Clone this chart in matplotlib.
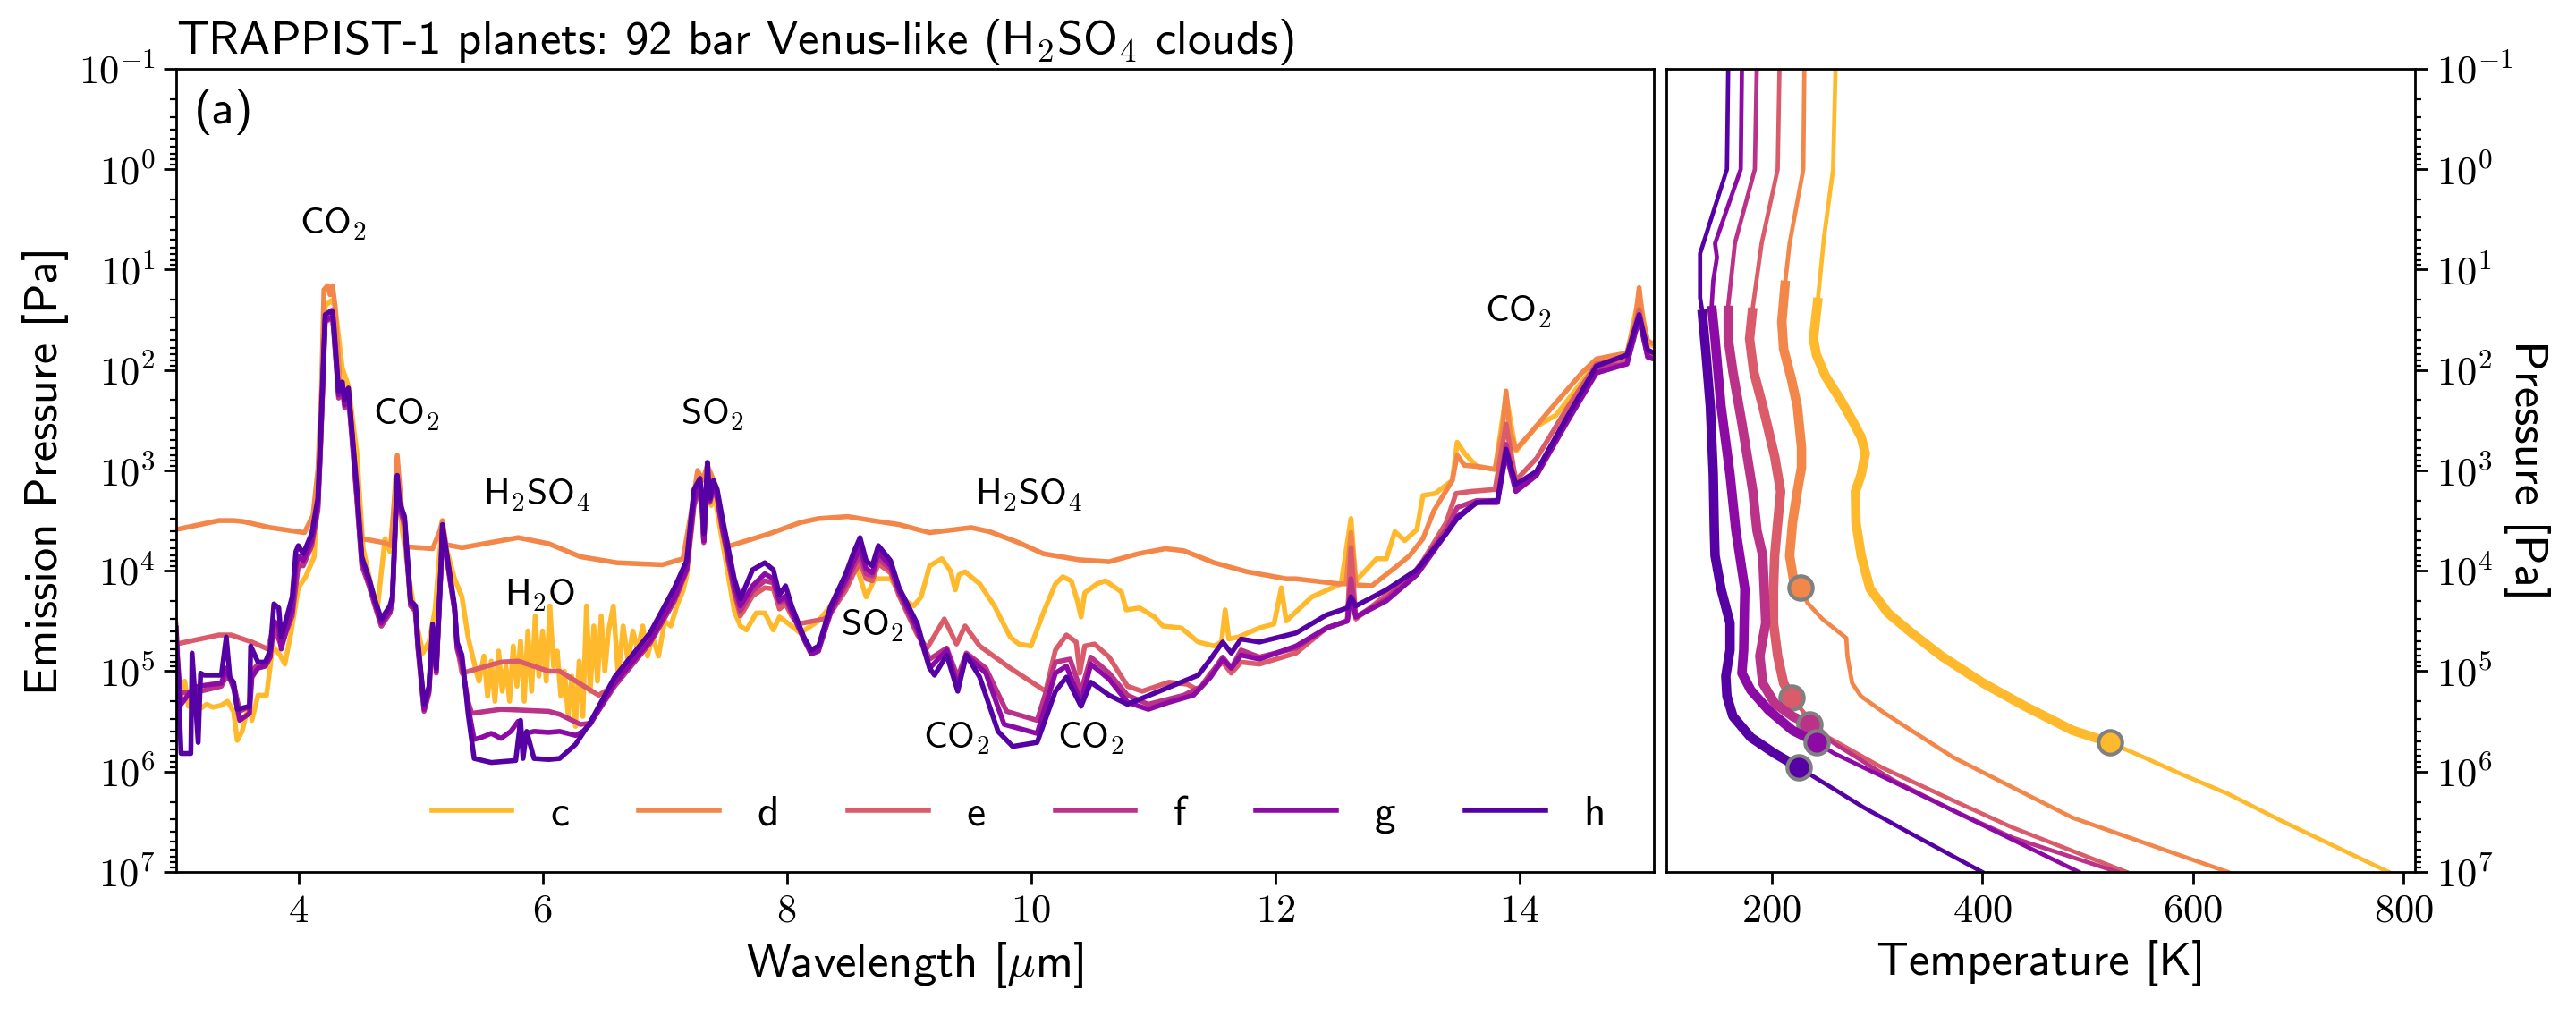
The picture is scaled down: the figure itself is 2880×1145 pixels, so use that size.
import numpy as np
import matplotlib
matplotlib.use("Agg")
import matplotlib.pyplot as plt
from matplotlib.ticker import FixedLocator, FuncFormatter, LogLocator, NullFormatter

plt.rcParams['font.family'] = 'cmss10'
plt.rcParams['mathtext.fontset'] = 'cm'
plt.rcParams['mathtext.default'] = 'rm'

planets = ["c", "d", "e", "f", "g", "h"]

# emission spectra: (wavelength [um], log10 emission pressure [Pa])
spec_c = [(3.00, 4.53), (3.03, 5.30), (3.07, 5.10), (3.10, 5.35), (3.15, 5.25), (3.20, 5.37), (3.25, 5.33),
          (3.30, 5.36), (3.37, 5.34), (3.42, 5.30), (3.47, 5.40), (3.50, 5.69), (3.54, 5.60), (3.58, 5.40),
          (3.60, 5.33), (3.62, 5.49), (3.67, 5.24), (3.74, 5.24), (3.79, 4.75), (3.85, 4.84), (3.89, 4.93),
          (3.94, 4.62), (4.00, 4.17), (4.06, 4.06), (4.13, 3.86), (4.18, 2.74), (4.22, 1.36), (4.27, 1.31),
          (4.30, 1.36), (4.36, 1.98), (4.41, 2.16), (4.48, 2.83), (4.53, 3.77), (4.60, 4.17), (4.65, 4.35),
          (4.69, 3.90), (4.71, 3.68), (4.75, 3.81), (4.77, 3.54), (4.81, 3.01), (4.85, 3.59), (4.92, 4.17),
          (4.97, 4.53), (5.02, 4.82), (5.07, 4.71), (5.12, 4.39), (5.17, 3.63), (5.22, 3.81), (5.28, 4.08),
          (5.34, 4.26), (5.39, 4.66), (5.46, 5.02), (5.48, 5.10), (5.52, 4.85), (5.55, 5.25), (5.58, 4.90),
          (5.61, 5.30), (5.64, 4.80), (5.67, 5.20), (5.70, 4.95), (5.73, 5.30), (5.76, 4.75), (5.79, 5.15),
          (5.82, 4.70), (5.85, 5.30), (5.88, 4.60), (5.91, 5.20), (5.94, 4.45), (5.97, 5.05), (6.00, 4.60),
          (6.03, 5.10), (6.06, 4.35), (6.09, 4.95), (6.12, 4.80), (6.15, 5.25), (6.18, 5.00), (6.21, 5.45),
          (6.24, 5.05), (6.27, 5.55), (6.30, 4.90), (6.33, 5.45), (6.36, 4.35), (6.39, 5.20), (6.42, 4.55),
          (6.45, 5.10), (6.48, 4.45), (6.51, 5.00), (6.54, 4.60), (6.58, 4.35), (6.62, 5.05), (6.66, 4.55),
          (6.70, 4.90), (6.74, 4.60), (6.78, 4.80), (6.82, 4.55), (6.86, 4.85), (6.90, 4.65), (6.95, 4.85),
          (7.00, 4.50), (7.05, 4.55), (7.10, 4.35), (7.15, 4.20), (7.18, 4.05), (7.22, 3.60), (7.25, 3.20),
          (7.29, 3.12), (7.32, 3.70), (7.35, 3.10), (7.38, 3.35), (7.41, 3.25), (7.45, 3.55), (7.50, 3.90),
          (7.57, 4.40), (7.62, 4.55), (7.67, 4.59), (7.75, 4.42), (7.82, 4.42), (7.89, 4.59), (7.94, 4.46),
          (8.04, 4.55), (8.11, 4.62), (8.26, 4.50), (8.36, 4.35), (8.48, 4.08), (8.58, 3.99), (8.65, 4.26),
          (8.72, 4.08), (8.85, 4.08), (8.97, 4.30), (9.04, 4.35), (9.10, 4.26), (9.17, 3.95), (9.27, 3.88),
          (9.34, 4.00), (9.38, 4.19), (9.41, 4.04), (9.46, 4.01), (9.58, 4.13), (9.70, 4.35), (9.83, 4.66),
          (9.90, 4.73), (10.00, 4.75), (10.10, 4.42), (10.20, 4.13), (10.26, 4.06), (10.33, 4.10), (10.38, 4.30),
          (10.41, 4.46), (10.44, 4.22), (10.54, 4.13), (10.61, 4.10), (10.74, 4.21), (10.78, 4.39), (10.89, 4.37),
          (11.01, 4.46), (11.08, 4.55), (11.23, 4.57), (11.37, 4.71), (11.50, 4.75), (11.56, 4.71), (11.59, 4.39),
          (11.62, 4.68), (11.70, 4.66), (11.87, 4.57), (11.99, 4.53), (12.05, 4.17), (12.09, 4.50), (12.30, 4.26),
          (12.54, 4.13), (12.62, 3.48), (12.66, 4.10), (12.83, 3.88), (12.91, 3.88), (12.98, 3.61), (13.06, 3.70),
          (13.16, 3.59), (13.21, 3.25), (13.31, 3.23), (13.45, 3.10), (13.49, 2.72), (13.55, 2.83), (13.65, 2.96),
          (13.80, 2.99), (13.89, 2.25), (13.97, 2.81), (14.14, 2.56), (14.30, 2.45), (14.51, 2.12), (14.63, 1.92),
          (14.88, 1.85), (14.98, 1.25), (15.05, 1.74), (15.10, 1.76)]

spec_d = [(3.00, 3.59), (3.35, 3.50), (3.47, 3.50), (3.55, 3.51), (3.77, 3.57), (4.05, 3.62), (4.12, 3.45),
          (4.16, 3.00), (4.19, 2.20), (4.21, 1.20), (4.24, 1.16), (4.26, 1.25), (4.28, 1.16), (4.30, 1.35),
          (4.34, 2.10), (4.38, 2.30), (4.42, 2.40), (4.47, 3.00), (4.52, 3.68), (4.70, 3.72), (4.76, 3.75),
          (4.78, 3.40), (4.81, 2.85), (4.84, 3.30), (4.88, 3.76), (5.10, 3.78), (5.16, 3.60), (5.18, 3.50),
          (5.21, 3.74), (5.34, 3.77), (5.57, 3.72), (5.80, 3.67), (6.05, 3.73), (6.31, 3.86), (6.61, 3.92),
          (6.98, 3.94), (7.15, 3.88), (7.22, 3.40), (7.27, 3.00), (7.31, 3.10), (7.35, 2.95), (7.40, 3.10),
          (7.45, 3.40), (7.52, 3.75), (7.54, 3.75), (7.86, 3.63), (8.11, 3.52), (8.26, 3.48), (8.50, 3.46),
          (8.70, 3.50), (8.92, 3.54), (9.17, 3.62), (9.51, 3.57), (9.66, 3.61), (9.90, 3.72), (10.10, 3.83),
          (10.39, 3.89), (10.64, 3.91), (10.88, 3.83), (11.10, 3.78), (11.25, 3.80), (11.50, 3.92), (11.77, 4.01),
          (12.09, 4.08), (12.17, 4.08), (12.52, 4.13), (12.58, 4.13), (12.62, 3.62), (12.66, 4.14), (12.79, 4.15),
          (12.98, 3.97), (13.10, 3.85), (13.21, 3.68), (13.30, 3.40), (13.40, 3.20), (13.45, 3.10), (13.49, 2.85),
          (13.55, 2.95), (13.65, 2.96), (13.80, 2.99), (13.86, 2.60), (13.89, 2.21), (13.92, 2.60), (13.97, 2.79),
          (14.09, 2.63), (14.24, 2.41), (14.51, 2.03), (14.63, 1.89), (14.88, 1.83), (14.95, 1.50), (14.98, 1.18),
          (15.01, 1.50), (15.05, 1.71), (15.10, 1.74)]

spec_e = [(3.00, 4.73), (3.35, 4.64), (3.45, 4.64), (3.62, 4.71), (3.75, 4.78), (3.80, 4.55), (3.86, 4.72),
          (3.91, 4.55), (3.95, 4.40), (4.00, 3.92), (4.04, 3.92), (4.11, 3.72), (4.16, 3.38), (4.18, 2.82),
          (4.22, 1.45), (4.28, 1.40), (4.29, 1.55), (4.33, 2.22), (4.36, 2.12), (4.38, 2.32), (4.41, 2.20),
          (4.44, 2.65), (4.48, 3.28), (4.52, 3.92), (4.58, 4.15), (4.63, 4.35), (4.68, 4.55), (4.75, 4.42),
          (4.77, 4.30), (4.81, 3.05), (4.83, 3.35), (4.87, 3.52), (4.92, 4.35), (4.96, 4.40), (4.98, 4.76),
          (5.03, 5.30), (5.07, 5.18), (5.10, 4.56), (5.13, 4.98), (5.17, 3.90), (5.18, 3.56), (5.22, 3.88),
          (5.28, 4.38), (5.30, 4.74), (5.34, 5.02), (5.66, 4.91), (5.80, 4.90), (6.05, 5.00), (6.14, 5.00),
          (6.46, 5.24), (6.59, 5.14), (6.88, 4.72), (7.08, 4.30), (7.18, 4.00), (7.24, 3.33), (7.29, 3.15),
          (7.31, 3.40), (7.32, 3.70), (7.35, 3.08), (7.37, 3.30), (7.40, 3.15), (7.43, 3.26), (7.47, 3.56),
          (7.57, 4.22), (7.62, 4.45), (7.72, 4.25), (7.82, 4.17), (7.89, 4.18), (7.94, 4.38), (7.99, 4.33),
          (8.04, 4.45), (8.09, 4.53), (8.31, 4.48), (8.36, 4.42), (8.48, 4.20), (8.55, 4.02), (8.60, 3.92),
          (8.65, 4.08), (8.70, 4.10), (8.75, 3.93), (8.85, 4.02), (8.92, 4.25), (9.07, 4.64), (9.15, 4.77),
          (9.29, 4.48), (9.39, 4.73), (9.46, 4.55), (9.58, 4.75), (9.83, 4.97), (10.12, 5.20), (10.20, 4.79),
          (10.29, 4.64), (10.37, 4.71), (10.40, 5.02), (10.44, 4.75), (10.52, 4.73), (10.64, 4.86), (10.79, 5.15),
          (10.91, 5.20), (11.13, 5.11), (11.28, 5.13), (11.37, 5.19), (11.47, 5.02), (11.57, 4.91), (11.64, 5.02),
          (11.72, 4.91), (11.87, 4.93), (12.17, 4.82), (12.42, 4.57), (12.59, 4.50), (12.62, 3.77), (12.66, 4.48),
          (12.91, 4.24), (13.11, 4.06), (13.21, 3.90), (13.40, 3.52), (13.48, 3.23), (13.60, 3.21), (13.80, 3.19),
          (13.89, 2.54), (13.97, 3.10), (14.14, 2.88), (14.39, 2.38), (14.63, 1.94), (14.88, 1.89), (14.98, 1.40),
          (15.05, 1.85), (15.10, 1.87)]

spec_f = [(3.00, 5.22), (3.20, 5.20), (3.37, 5.15), (3.41, 5.05), (3.47, 5.12), (3.52, 5.40), (3.60, 5.35),
          (3.62, 5.00), (3.67, 4.93), (3.73, 4.93), (3.77, 4.82), (3.80, 4.55), (3.86, 4.75), (3.91, 4.58),
          (3.95, 4.45), (4.00, 3.95), (4.04, 3.95), (4.11, 3.75), (4.16, 3.40), (4.18, 2.85), (4.22, 1.52),
          (4.28, 1.48), (4.29, 1.62), (4.33, 2.28), (4.36, 2.18), (4.38, 2.38), (4.41, 2.25), (4.44, 2.70),
          (4.48, 3.30), (4.52, 3.95), (4.58, 4.15), (4.63, 4.36), (4.68, 4.55), (4.75, 4.42), (4.77, 4.32),
          (4.81, 3.12), (4.83, 3.38), (4.87, 3.55), (4.92, 4.35), (4.96, 4.40), (4.98, 4.78), (5.03, 5.40),
          (5.07, 5.22), (5.10, 4.58), (5.13, 5.02), (5.17, 3.95), (5.18, 3.60), (5.22, 3.92), (5.28, 4.40),
          (5.30, 4.78), (5.34, 4.95), (5.39, 5.30), (5.42, 5.42), (5.66, 5.38), (6.05, 5.40), (6.14, 5.43),
          (6.31, 5.53), (6.39, 5.52), (6.59, 5.15), (6.88, 4.72), (7.08, 4.30), (7.18, 4.00), (7.24, 3.35),
          (7.29, 3.18), (7.31, 3.42), (7.32, 3.72), (7.35, 3.10), (7.37, 3.32), (7.40, 3.18), (7.43, 3.28),
          (7.47, 3.58), (7.57, 4.20), (7.62, 4.40), (7.72, 4.20), (7.82, 4.10), (7.89, 4.12), (7.94, 4.32),
          (7.99, 4.28), (8.04, 4.42), (8.14, 4.68), (8.20, 4.82), (8.26, 4.78), (8.36, 4.42), (8.48, 4.15),
          (8.55, 3.95), (8.60, 3.85), (8.65, 4.03), (8.70, 4.05), (8.75, 3.88), (8.85, 3.98), (8.92, 4.22),
          (9.07, 4.62), (9.17, 4.88), (9.31, 4.77), (9.40, 5.06), (9.47, 4.82), (9.63, 4.97), (9.80, 5.40),
          (10.05, 5.49), (10.20, 4.91), (10.32, 4.88), (10.41, 5.20), (10.49, 4.86), (10.64, 5.02), (10.79, 5.24),
          (10.96, 5.33), (11.25, 5.24), (11.40, 5.15), (11.57, 4.86), (11.64, 4.97), (11.72, 4.79), (11.87, 4.86),
          (12.17, 4.77), (12.42, 4.57), (12.59, 4.50), (12.62, 4.08), (12.66, 4.46), (12.91, 4.28), (13.16, 3.99),
          (13.40, 3.59), (13.49, 3.37), (13.65, 3.30), (13.82, 3.30), (13.89, 2.74), (13.97, 3.19), (14.14, 3.01),
          (14.39, 2.47), (14.63, 1.98), (14.88, 1.94), (14.98, 1.45), (15.05, 1.87), (15.10, 1.89)]

spec_g = [(3.00, 4.71), (3.04, 5.33), (3.12, 5.20), (3.18, 5.15), (3.30, 5.13), (3.37, 5.12), (3.41, 4.97),
          (3.47, 5.17), (3.52, 5.49), (3.60, 5.42), (3.62, 5.06), (3.67, 4.97), (3.73, 4.95), (3.77, 4.86),
          (3.80, 4.50), (3.84, 4.55), (3.86, 4.78), (3.91, 4.55), (3.95, 4.40), (3.98, 3.95), (4.00, 3.85),
          (4.04, 3.90), (4.11, 3.70), (4.16, 3.35), (4.18, 2.80), (4.22, 1.50), (4.28, 1.47), (4.29, 1.60),
          (4.33, 2.25), (4.36, 2.15), (4.38, 2.35), (4.41, 2.22), (4.44, 2.65), (4.48, 3.25), (4.52, 3.90),
          (4.58, 4.12), (4.63, 4.33), (4.68, 4.52), (4.75, 4.40), (4.77, 4.30), (4.81, 3.10), (4.83, 3.36),
          (4.87, 3.50), (4.92, 4.33), (4.96, 4.38), (4.98, 4.75), (5.03, 5.38), (5.07, 5.20), (5.10, 4.56),
          (5.13, 5.00), (5.17, 3.93), (5.18, 3.58), (5.22, 3.90), (5.28, 4.38), (5.30, 4.75), (5.34, 4.90),
          (5.39, 5.35), (5.44, 5.68), (5.50, 5.66), (5.58, 5.62), (5.66, 5.67), (5.74, 5.60), (5.80, 5.50),
          (5.83, 5.63), (5.93, 5.60), (6.05, 5.61), (6.14, 5.60), (6.27, 5.64), (6.33, 5.60), (6.39, 5.53),
          (6.59, 5.12), (6.88, 4.70), (7.08, 4.27), (7.18, 3.98), (7.24, 3.30), (7.29, 3.15), (7.31, 3.40),
          (7.32, 3.70), (7.35, 3.05), (7.37, 3.30), (7.40, 3.15), (7.43, 3.25), (7.47, 3.55), (7.57, 4.15),
          (7.62, 4.35), (7.72, 4.15), (7.82, 4.03), (7.89, 4.08), (7.94, 4.30), (7.99, 4.25), (8.04, 4.40),
          (8.14, 4.68), (8.20, 4.83), (8.26, 4.80), (8.36, 4.40), (8.48, 4.10), (8.55, 3.90), (8.60, 3.77),
          (8.65, 3.98), (8.70, 4.02), (8.75, 3.82), (8.85, 3.95), (8.92, 4.20), (9.07, 4.58), (9.17, 4.97),
          (9.31, 4.79), (9.40, 5.15), (9.47, 4.84), (9.63, 5.02), (9.78, 5.53), (10.05, 5.62), (10.20, 5.02),
          (10.29, 4.95), (10.41, 5.31), (10.49, 4.93), (10.64, 5.08), (10.79, 5.31), (10.96, 5.38), (11.13, 5.31),
          (11.33, 5.24), (11.47, 5.06), (11.57, 4.88), (11.64, 4.97), (11.72, 4.84), (11.87, 4.88), (12.17, 4.75),
          (12.42, 4.57), (12.59, 4.50), (12.62, 4.26), (12.66, 4.46), (12.91, 4.30), (13.16, 4.04), (13.40, 3.63),
          (13.49, 3.46), (13.65, 3.32), (13.82, 3.32), (13.89, 2.83), (13.97, 3.21), (14.14, 3.05), (14.39, 2.52),
          (14.63, 2.03), (14.88, 1.94), (14.98, 1.49), (15.05, 1.87), (15.10, 1.89)]

spec_h = [(3.00, 4.57), (3.04, 5.82), (3.12, 5.82), (3.13, 4.82), (3.18, 5.71), (3.20, 5.02), (3.23, 5.04),
          (3.37, 5.04), (3.41, 4.66), (3.44, 5.06), (3.47, 5.11), (3.50, 5.38), (3.60, 5.35), (3.61, 4.75),
          (3.67, 4.91), (3.73, 4.91), (3.77, 4.79), (3.80, 4.33), (3.84, 4.37), (3.86, 4.66), (3.91, 4.44),
          (3.95, 4.26), (3.98, 3.81), (4.00, 3.75), (4.04, 3.83), (4.11, 3.63), (4.16, 3.28), (4.18, 2.70),
          (4.22, 1.45), (4.26, 1.42), (4.28, 1.42), (4.29, 1.54), (4.33, 2.21), (4.36, 2.12), (4.38, 2.29),
          (4.41, 2.18), (4.44, 2.61), (4.48, 3.19), (4.52, 3.86), (4.58, 4.08), (4.63, 4.30), (4.68, 4.48),
          (4.75, 4.35), (4.77, 4.26), (4.81, 3.05), (4.83, 3.32), (4.87, 3.46), (4.92, 4.30), (4.96, 4.35),
          (4.98, 4.71), (5.03, 5.33), (5.07, 5.15), (5.10, 4.53), (5.13, 4.97), (5.17, 3.90), (5.18, 3.54),
          (5.22, 3.86), (5.28, 4.35), (5.30, 4.71), (5.34, 4.84), (5.39, 5.42), (5.44, 5.87), (5.58, 5.91),
          (5.78, 5.89), (5.82, 5.49), (5.84, 5.87), (5.87, 5.60), (5.93, 5.87), (6.05, 5.88), (6.14, 5.87),
          (6.27, 5.73), (6.39, 5.51), (6.59, 5.06), (6.88, 4.62), (7.08, 4.17), (7.18, 3.90), (7.24, 3.19),
          (7.29, 3.08), (7.31, 3.37), (7.32, 3.63), (7.35, 2.92), (7.37, 3.28), (7.40, 3.10), (7.43, 3.19),
          (7.47, 3.46), (7.57, 4.08), (7.62, 4.28), (7.72, 3.99), (7.82, 3.92), (7.89, 3.99), (7.94, 4.24),
          (7.99, 4.15), (8.04, 4.35), (8.14, 4.66), (8.20, 4.79), (8.26, 4.75), (8.36, 4.35), (8.48, 4.04),
          (8.55, 3.81), (8.60, 3.67), (8.65, 3.90), (8.70, 3.95), (8.75, 3.75), (8.85, 3.90), (8.92, 4.17),
          (9.07, 4.53), (9.17, 4.97), (9.21, 5.04), (9.31, 4.84), (9.40, 5.20), (9.47, 4.84), (9.58, 5.06),
          (9.73, 5.60), (9.85, 5.75), (10.05, 5.71), (10.20, 5.20), (10.29, 5.06), (10.41, 5.35), (10.49, 5.11),
          (10.64, 5.24), (10.79, 5.33), (11.01, 5.22), (11.37, 5.04), (11.47, 4.88), (11.57, 4.71), (11.64, 4.82),
          (11.72, 4.68), (11.87, 4.71), (12.17, 4.62), (12.42, 4.44), (12.59, 4.37), (12.62, 4.26), (12.66, 4.35),
          (12.91, 4.19), (13.16, 3.99), (13.40, 3.63), (13.49, 3.48), (13.65, 3.32), (13.82, 3.30), (13.89, 2.79),
          (13.97, 3.14), (14.14, 3.01), (14.39, 2.47), (14.63, 1.96), (14.88, 1.85), (14.98, 1.45), (15.05, 1.80),
          (15.10, 1.83)]

spectra = [spec_c, spec_d, spec_e, spec_f, spec_g, spec_h]

# temperature profiles: (T [K], log10 pressure [Pa]) from top to bottom
prof_c = [(260.6, -1.0), (258.3, 0.0), (249.8, 0.67), (244.0, 1.28), (239.6, 1.69), (242.5, 1.85), (251.0, 2.06),
          (265.0, 2.29), (276.4, 2.50), (285.0, 2.67), (288.9, 2.83), (285.0, 3.04), (279.5, 3.21), (280.0, 3.52),
          (285.0, 3.85), (293.4, 4.18), (310.4, 4.42), (333.0, 4.62), (361.3, 4.85), (401.0, 5.12), (440.6, 5.35),
          (485.8, 5.59), (520.9, 5.71), (553.8, 5.86), (587.7, 6.02), (633.0, 6.22), (683.9, 6.49), (785.8, 7.0)]
prof_d = [(231.0, -1.0), (230.0, 0.0), (217.0, 0.74), (213.0, 1.11), (209.6, 1.52), (211.3, 1.79), (218.7, 2.09),
          (224.3, 2.36), (228.3, 2.77), (228.3, 2.97), (224.3, 3.21), (219.8, 3.52), (217.0, 3.85), (220.9, 4.10),
          (227.2, 4.17), (234.0, 4.32), (248.1, 4.48), (270.8, 4.67), (271.9, 4.85), (276.4, 5.12), (284.9, 5.25),
          (307.5, 5.42), (372.6, 5.86), (485.8, 6.46), (633.0, 7.0)]
prof_e = [(207.4, -1.0), (205.7, 0.0), (190.4, 0.74), (182.0, 1.38), (179.0, 1.69), (183.0, 2.02), (191.5, 2.36),
          (202.8, 2.86), (208.5, 3.21), (205.7, 3.52), (202.8, 3.85), (201.7, 4.18), (201.7, 4.52), (205.7, 4.85),
          (211.3, 5.12), (218.7, 5.26), (231.1, 5.42), (253.8, 5.66), (304.7, 5.96), (372.6, 6.29), (429.2, 6.56),
          (536.8, 7.0)]
prof_f = [(185.8, -1.0), (184.0, 0.0), (165.0, 0.74), (163.0, 0.94), (158.7, 1.36), (158.7, 1.69), (163.2, 2.02),
          (171.7, 2.53), (182.0, 3.20), (186.0, 3.60), (191.5, 3.85), (194.3, 4.52), (188.7, 4.85), (191.5, 5.12),
          (202.8, 5.32), (219.8, 5.45), (235.7, 5.53), (259.4, 5.72), (316.0, 6.09), (372.6, 6.39), (429.2, 6.66),
          (528.3, 7.0)]
prof_g = [(171.7, -1.0), (170.6, 0.0), (146.2, 0.74), (148.0, 0.88), (144.5, 1.11), (143.0, 1.36), (146.2, 1.69),
          (151.9, 2.36), (160.4, 3.04), (166.0, 3.60), (174.5, 4.18), (173.4, 4.79), (171.7, 5.02), (180.2, 5.19),
          (197.2, 5.39), (219.8, 5.59), (242.5, 5.71), (259.4, 5.82), (293.4, 5.99), (372.6, 6.39), (491.5, 7.0)]
prof_h = [(158.7, -1.0), (157.5, 0.0), (132.0, 0.84), (132.0, 1.28), (133.8, 1.40), (137.7, 1.85), (141.7, 2.36),
          (144.5, 3.04), (145.5, 3.60), (146.2, 3.85), (151.9, 4.18), (160.4, 4.52), (160.4, 4.79), (156.4, 5.05),
          (157.5, 5.25), (163.2, 5.45), (180.2, 5.66), (202.8, 5.82), (225.5, 5.96), (253.8, 6.14), (287.7, 6.36),
          (327.4, 6.59), (399.8, 7.0)]

profiles = [prof_c, prof_d, prof_e, prof_f, prof_g, prof_h]
thick_top_logp = [1.28, 1.11, 1.38, 1.36, 1.36, 1.40]
marker_logp = [5.71, 4.17, 5.26, 5.53, 5.71, 5.96]

# label text, wavelength, log10 pressure
labels = [(r"CO$_2$", 4.28, 0.55), (r"CO$_2$", 4.88, 2.45), (r"H$_2$SO$_4$", 5.95, 3.25),
          (r"H$_2$O", 5.98, 4.25), (r"SO$_2$", 7.39, 2.45), (r"SO$_2$", 8.70, 4.55),
          (r"H$_2$SO$_4$", 9.98, 3.25), (r"CO$_2$", 9.39, 5.67), (r"CO$_2$", 10.49, 5.67),
          (r"CO$_2$", 13.99, 1.42)]

colors = plt.cm.plasma(np.linspace(0.85, 0.15, 6))

fig = plt.figure(figsize=(14.4, 5.725), dpi=200)
ax = fig.add_axes([0.0684, 0.1485, 0.5736, 0.7843])
ax2 = fig.add_axes([0.6469, 0.1485, 0.2906, 0.7843])


def log_fmt(v, pos):
    return r"$10^{%d}$" % int(round(np.log10(v)))


for a in (ax, ax2):
    a.set_yscale("log")
    a.set_ylim(1e7, 1e-1)
    a.yaxis.set_major_locator(FixedLocator(10.0 ** np.arange(-1, 8)))
    a.yaxis.set_minor_locator(LogLocator(base=10, subs=np.arange(2, 10), numticks=100))
    a.yaxis.set_major_formatter(FuncFormatter(log_fmt))
    a.yaxis.set_minor_formatter(NullFormatter())
    a.tick_params(which="major", labelsize=16, length=5, width=1)
    a.tick_params(which="minor", length=2.5, width=0.8)
    for s in a.spines.values():
        s.set_linewidth(1.0)

for spec, col, name in zip(spectra, colors, planets):
    wl, lp = np.array(spec).T
    ax.plot(wl, 10.0 ** lp, color=col, lw=2.0, label=name)

for txt, x, y in labels:
    ax.text(x, 10.0 ** y, txt, fontsize=15, ha="center", va="center")

ax.set_xlim(3.0, 15.1)
ax.xaxis.set_major_locator(FixedLocator([4, 6, 8, 10, 12, 14]))
ax.xaxis.set_major_formatter(FuncFormatter(lambda v, p: r"$%d$" % v))
ax.set_xlabel(r"Wavelength [$\mu$m]", fontsize=19)
ax.set_ylabel("Emission Pressure [Pa]", fontsize=19)
ax.text(0.012, 0.975, "(a)", transform=ax.transAxes, fontsize=19, va="top", ha="left")
ax.set_title(r"TRAPPIST-1 planets: 92 bar Venus-like (H$_2$SO$_4$ clouds)", loc="left", fontsize=19, pad=6)
ax.legend(loc="lower center", bbox_to_anchor=(0.57, 0.0), ncol=6, frameon=False, fontsize=17,
          handlelength=1.9, handletextpad=0.9, columnspacing=1.65)

for prof, col, top, mk in zip(profiles, colors, thick_top_logp, marker_logp):
    T, lp = np.array(prof).T
    P = 10.0 ** lp
    ax2.plot(T, P, color=col, lw=1.7)
    sel = (lp >= top) & (lp <= mk)
    ax2.plot(T[sel], P[sel], color=col, lw=3.8, solid_capstyle="butt")
    ax2.plot(np.interp(mk, lp, T), 10.0 ** mk, "o", color=col, ms=9.5, mec="gray", mew=1.5)

ax2.set_xlim(100, 811)
ax2.xaxis.set_major_locator(FixedLocator([200, 400, 600, 800]))
ax2.xaxis.set_major_formatter(FuncFormatter(lambda v, p: r"$%d$" % v))
ax2.yaxis.tick_right()
ax2.yaxis.set_label_position("right")
ax2.set_xlabel("Temperature [K]", fontsize=19)
ax2.set_ylabel("Pressure [Pa]", fontsize=19, rotation=270, labelpad=15)

for a in (ax, ax2):
    a.tick_params(axis="x", labelsize=16)

fig.savefig("out.png", dpi=200)
